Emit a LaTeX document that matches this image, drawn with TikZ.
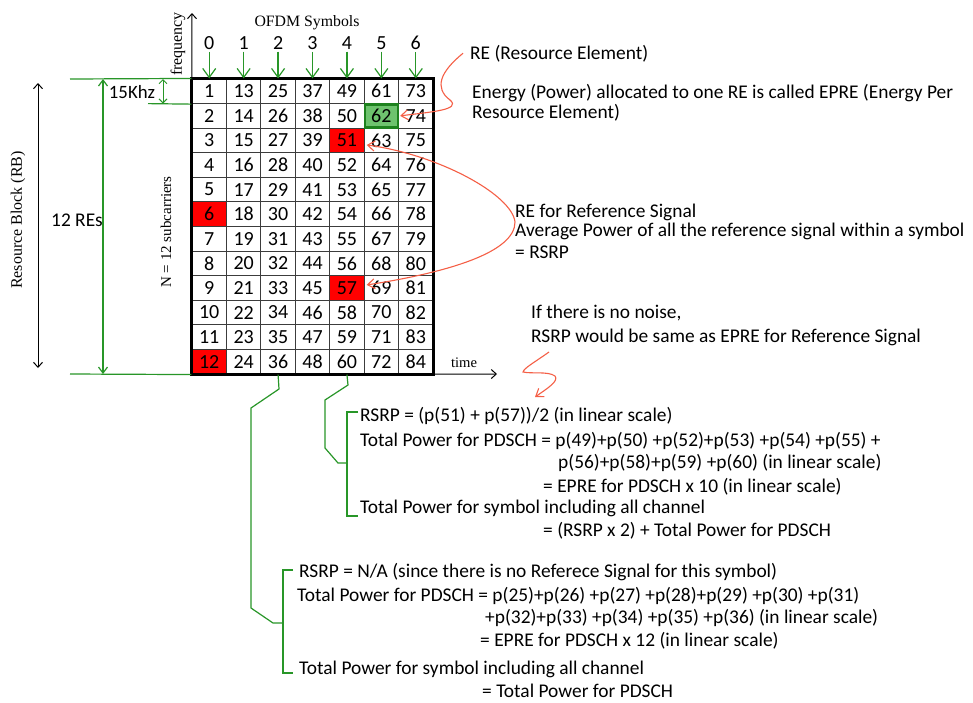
\documentclass[tikz,border=0pt]{standalone}
\usepackage{fontspec}
\setmainfont{Carlito}
\newfontfamily\timesf{Liberation Serif}
\usetikzlibrary{arrows.meta,calc}
\definecolor{gline}{RGB}{40,150,40}
\definecolor{rline}{RGB}{245,95,70}
\definecolor{cellred}{RGB}{255,0,0}
\definecolor{cellgreen}{RGB}{110,195,110}
\definecolor{cellgreenb}{RGB}{30,130,30}
\definecolor{gridgray}{RGB}{60,60,60}
\tikzset{
  cellbox/.style={draw=gridgray, line width=1.1pt, minimum width=34.43pt, minimum height=24.58pt,
    inner sep=0pt, font=\fontsize{20}{23}\selectfont},
  bodytxt/.style={anchor=base west, inner sep=0pt, font=\fontsize{19.4}{23}\selectfont},
  serifl/.style={inner sep=0pt, font=\timesf\fontsize{15.8}{18}\selectfont},
  gline/.style={draw=gline, line width=1.2pt},
  garrow/.style={draw=gline, line width=1.2pt, -{Straight Barb[length=9pt,width=13pt]}},
  gdouble/.style={draw=gline, line width=1.2pt, {Straight Barb[length=6pt,width=9pt]}-{Straight Barb[length=6pt,width=9pt]}},
  kdouble/.style={draw=black, line width=1pt, {Straight Barb[length=5pt,width=9pt]}-{Straight Barb[length=5pt,width=9pt]}},
  kaxis/.style={draw=black, line width=1pt, -{Straight Barb[length=5pt,width=9pt]}},
  rarrow/.style={draw=rline, line width=1.1pt, -{Straight Barb[length=7pt,width=10pt]}},
}
\begin{document}
\begin{tikzpicture}[x=1pt,y=-1pt]
\fill[white] (0,0) rectangle (973,702);
\useasboundingbox (0,0) rectangle (973,702);

% resource grid: 7 OFDM symbols x 12 subcarriers
\foreach \c in {0,...,6}{
  \foreach \r in {0,...,11}{
    \pgfmathtruncatemacro{\n}{12*\c+\r+1}
    \def\fc{white}
    \ifnum\n=6 \def\fc{cellred}\fi
    \ifnum\n=12 \def\fc{cellred}\fi
    \ifnum\n=51 \def\fc{cellred}\fi
    \ifnum\n=57 \def\fc{cellred}\fi
    \ifnum\n=62 \def\fc{cellgreen}\fi
    \node[cellbox, fill=\fc] (c\n) at ({192+(\c+0.5)*34.43},{79+(\r+0.5)*24.583}) {\n};
  }
}
\draw[cellgreenb, line width=2.6pt] ($(c62.north west)+(1.3,1.3)$) rectangle ($(c62.south east)+(-1.3,-1.3)$);
\draw[black, line width=2.2pt] (c1.north west) rectangle (c84.south east);

% symbol indices with their arrows
\node[serifl] (ofdm) at (307,23) {OFDM Symbols};
\foreach \c in {0,...,6}{
  \pgfmathtruncatemacro{\t}{12*\c+1}
  \node[inner sep=1pt, font=\fontsize{20}{23}\selectfont] (h\c) at ({192+(\c+0.5)*34.43},43) {\c};
  \draw[garrow] ([yshift=-1pt]h\c.south) -- (c\t.north);
}

% axes
\coordinate (ftop) at (192,13);
\coordinate (tend) at (497,374);
\draw[kaxis] (c12.south west) -- (ftop);
\draw[kaxis] (c12.south west) -- (tend);
\node[serifl, rotate=90, font=\timesf\fontsize{16}{18}\selectfont] (freq) at (178,44) {frequency};
\node[serifl, font=\timesf\fontsize{14.6}{17}\selectfont] (time) at (464,363) {time};

% dimension lines on the left
\coordinate (gtop) at (70,79);
\coordinate (gbot) at (70,374);
\coordinate (gsub) at (148,103.6);
\draw[gline] (gtop) -- (c1.north west);
\draw[gline] (gbot) -- (c12.south west);
\draw[gline] (gsub) -- (c1.south west);
\coordinate (reTop) at (103,79);
\coordinate (reBot) at (103,374);
\draw[gdouble] (reTop) -- (reBot);
\node[inner sep=0pt, font=\fontsize{19.4}{23}\selectfont] (twelve) at (77,220) {12 REs};
\coordinate (scTop) at (163,79);
\coordinate (scBot) at (163,103.6);
\draw[draw=gline, line width=1pt, {Straight Barb[length=4pt,width=8pt]}-{Straight Barb[length=4pt,width=8pt]}] (scTop) -- (scBot);
\node[inner sep=0pt, font=\fontsize{18.8}{22}\selectfont] (khz) at (132,92) {15Khz};
\coordinate (rbTop) at (38,83);
\coordinate (rbBot) at (38,368);
\draw[kdouble] (rbTop) -- (rbBot);
\node[serifl, rotate=90, font=\timesf\fontsize{16}{18}\selectfont] (rb) at (18,220) {Resource Block (RB)};
\node[serifl, rotate=90, font=\timesf\fontsize{15}{18}\selectfont] (nsub) at (166,232) {N = 12 subcarriers};

% notes on the right
\node[bodytxt] (reTitle) at (470,59) {RE (Resource Element)};
\node[bodytxt] (epre1) at (472,98) {Energy (Power) allocated to one RE is called EPRE (Energy Per};
\node[bodytxt] (epre2) at (472,118) {Resource Element)};
\node[bodytxt] (rsTitle) at (515,217) {RE for Reference Signal};
\node[bodytxt] (rs2) at (515,236) {Average Power of all the reference signal within a symbol};
\node[bodytxt] (rs3) at (515,258) {= RSRP};
\node[bodytxt] (noise1) at (531,318) {If there is no noise,};
\node[bodytxt] (noise2) at (531,342) {RSRP would be same as EPRE for Reference Signal};

% red pointers
\draw[rarrow] ($(reTitle.west)+(-7,0)$) .. controls (440,72) and (434,88) .. (450,100)
  .. controls (462,110) and (430,112) .. ($(c62.east)+(1,0)$);
\coordinate (rsJoin) at (515,222);
\draw[rarrow] (rsJoin) .. controls (512,195) and (440,155) .. ($(c51.east)+(2,4.5)$);
\draw[rarrow] (rsJoin) .. controls (515,252) and (450,272) .. ($(c57.east)+(2,-3)$);
\coordinate (sqA) at (549,352);
\coordinate (sqB) at (523,372);
\coordinate (sqC) at (555,376);
\coordinate (sqD) at (535,397);
\draw[rarrow] (sqA) .. controls (535,362) and (524,368) .. (sqB)
  .. controls (532,374) and (548,371) .. (sqC)
  .. controls (559,381) and (548,388) .. (sqD);

% symbol 4 summary
\node[bodytxt] (s4a) at (360,421) {RSRP = (p(51) + p(57))/2 (in linear scale)};
\node[bodytxt] (s4b) at (360,446) {Total Power for PDSCH = p(49)+p(50) +p(52)+p(53) +p(54) +p(55) +};
\node[bodytxt] (s4c) at (558,468) {p(56)+p(58)+p(59) +p(60) (in linear scale)};
\node[bodytxt] (s4d) at (543,492) {= EPRE for PDSCH x 10 (in linear scale)};
\node[bodytxt] (s4e) at (360,513) {Total Power for symbol including all channel};
\node[bodytxt] (s4f) at (543,536) {= (RSRP x 2) + Total Power for PDSCH};

% symbol 2 summary
\node[bodytxt] (s2a) at (299,577) {RSRP = N/A (since there is no Referece Signal for this symbol)};
\node[bodytxt] (s2b) at (297,601) {Total Power for PDSCH = p(25)+p(26) +p(27) +p(28)+p(29) +p(30) +p(31)};
\node[bodytxt] (s2c) at (485,623) {+p(32)+p(33) +p(34) +p(35) +p(36) (in linear scale)};
\node[bodytxt] (s2d) at (480,646) {= EPRE for PDSCH x 12 (in linear scale)};
\node[bodytxt] (s2e) at (299,674) {Total Power for symbol including all channel};
\node[bodytxt] (s2f) at (482,697) {= Total Power for PDSCH};

% green leaders and braces
\draw[gline] (c60.south) -- (348,385) -- (325,400) -- (325,448) -- (338,463) -- (347,463);
\draw[gline] (358,412) -- (347,412) -- (347,516) -- (358,516);
\draw[gline] (c36.south) -- (279,389) -- (251,408) -- (251,608) -- (273,623) -- (283,623);
\draw[gline] (293,570) -- (283,570) -- (283,673) -- (293,673);
\end{tikzpicture}
\end{document}
